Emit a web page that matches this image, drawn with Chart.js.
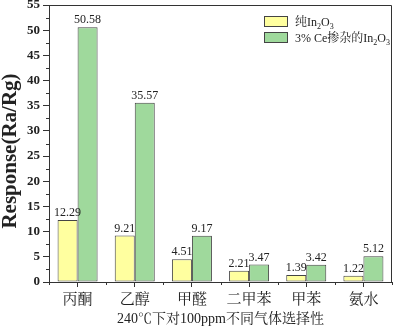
<!DOCTYPE html>
<html>
<head>
<meta charset="utf-8">
<script src="https://cdn.jsdelivr.net/npm/chart.js@4/dist/chart.umd.min.js"></script>
<style>
  html, body { margin: 0; padding: 0; background: #fff; }
  #wrap { width: 393px; height: 328px; }
</style>
</head>
<body>
<div id="wrap"><canvas id="c"></canvas></div>
<script>
// data
const gases = ['丙酮', '乙醇', '甲醛', '二甲苯', '甲苯', '氨水'];
const pureIn2O3 = [12.29, 9.21, 4.51, 2.21, 1.39, 1.22];
const ceDoped = [50.58, 35.57, 9.17, 3.47, 3.42, 5.12];
const seriesNames = ['纯In₂O₃', '3% Ce掺杂的In₂O₃'];
const yTitle = 'Response(Ra/Rg)';
const xTitle = '240℃下对100ppm不同气体选择性';

const SERIF = "'Liberation Serif', 'Noto Serif CJK SC', 'Noto Sans CJK SC', serif";
const AXIS = '#333';
const fills = ['#ffff9f', '#9fd99c'];

// minor ticks, frame, y title, value labels, legend
const decorate = {
  id: 'decorate',
  afterDraw(chart) {
    const {ctx, chartArea: a, scales} = chart;
    ctx.save();
    ctx.strokeStyle = AXIS;
    ctx.lineWidth = 1;
    // frame (top + right)
    ctx.beginPath();
    ctx.moveTo(a.left, a.top + 0.5);
    ctx.lineTo(a.right - 0.5, a.top + 0.5);
    ctx.lineTo(a.right - 0.5, a.bottom);
    ctx.stroke();
    // y minor ticks
    const y = scales.y;
    ctx.beginPath();
    for (let v = 2.5; v < y.max; v += 5) {
      const py = Math.round(y.getPixelForValue(v)) + 0.5;
      ctx.moveTo(a.left - 3, py);
      ctx.lineTo(a.left, py);
    }
    // x minor ticks at category boundaries
    const x = scales.x;
    for (let i = 0; i <= gases.length; i++) {
      const px = Math.round(x.getPixelForValue(i - 0.5)) + 0.5;
      ctx.moveTo(px, a.bottom);
      ctx.lineTo(px, a.bottom + 3);
    }
    ctx.stroke();

    // y axis title
    ctx.save();
    ctx.translate(11, 151);
    ctx.rotate(-Math.PI / 2);
    ctx.fillStyle = '#222';
    ctx.font = 'bold 21px ' + SERIF;
    ctx.textAlign = 'center';
    ctx.textBaseline = 'middle';
    ctx.fillText(yTitle, 0, 0);
    ctx.restore();

    // value labels
    ctx.fillStyle = '#222';
    ctx.font = '12px ' + SERIF;
    ctx.textAlign = 'center';
    ctx.textBaseline = 'bottom';
    chart.data.datasets.forEach((ds, di) => {
      chart.getDatasetMeta(di).data.forEach((bar, i) => {
        ctx.fillText(ds.data[i].toFixed(2), bar.x, bar.y - 1);
      });
    });

    // legend with subscripts
    const lx = 264, ly = 16;
    chart.data.datasets.forEach((ds, di) => {
      const top = ly + di * 16;
      ctx.fillStyle = ds.backgroundColor;
      ctx.fillRect(lx, top, 24, 11);
      ctx.strokeStyle = '#444';
      ctx.strokeRect(lx + 0.5, top + 0.5, 23, 10);
      let tx = lx + 31;
      const base = top + 10;
      ctx.fillStyle = '#222';
      ctx.textAlign = 'left';
      ctx.textBaseline = 'alphabetic';
      for (const ch of ds.label) {
        const sub = '₀₁₂₃₄₅₆₇₈₉'.indexOf(ch);
        if (sub >= 0) {
          ctx.font = '8px ' + SERIF;
          ctx.fillText(String(sub), tx, base + 3);
          tx += ctx.measureText(String(sub)).width;
        } else {
          ctx.font = '12px ' + SERIF;
          ctx.fillText(ch, tx, base);
          tx += ctx.measureText(ch).width;
        }
      }
    });
    ctx.restore();
  }
};

new Chart(document.getElementById('c'), {
  type: 'bar',
  data: {
    labels: gases,
    datasets: [
      { label: seriesNames[0], data: pureIn2O3, backgroundColor: fills[0] },
      { label: seriesNames[1], data: ceDoped, backgroundColor: fills[1] }
    ].map(ds => Object.assign(ds, {
      borderColor: '#444', borderWidth: 1, borderSkipped: false,
      barPercentage: 1.0, categoryPercentage: 0.7
    }))
  },
  options: {
    responsive: true,
    maintainAspectRatio: false,
    animation: false,
    layout: { padding: { top: 5, right: 1, left: 0, bottom: 0 } },
    plugins: { legend: { display: false }, tooltip: { enabled: false } },
    scales: {
      x: {
        grid: { display: true, drawOnChartArea: false, offset: false, tickLength: 5, color: AXIS },
        border: { color: AXIS, width: 1 },
        ticks: { color: '#222', font: { family: SERIF, size: 15 }, padding: 4, maxRotation: 0 },
        title: { display: true, text: xTitle, color: '#222', font: { family: SERIF, size: 14 }, padding: { top: 0, bottom: 0 } },
        afterFit(s) { s.height = 46; s.paddingLeft = 0; s.paddingRight = 0; }
      },
      y: {
        min: 0, max: 55,
        grid: { display: true, drawOnChartArea: false, tickLength: 6, color: AXIS },
        border: { color: AXIS, width: 1 },
        ticks: { stepSize: 5, color: '#222', font: { family: SERIF, size: 13, weight: 'bold' }, padding: 3 },
        title: { display: false },
        afterFit(s) { s.width = 49; s.paddingTop = 0; s.paddingBottom = 0; }
      }
    }
  },
  plugins: [decorate]
});
</script>
</body>
</html>
